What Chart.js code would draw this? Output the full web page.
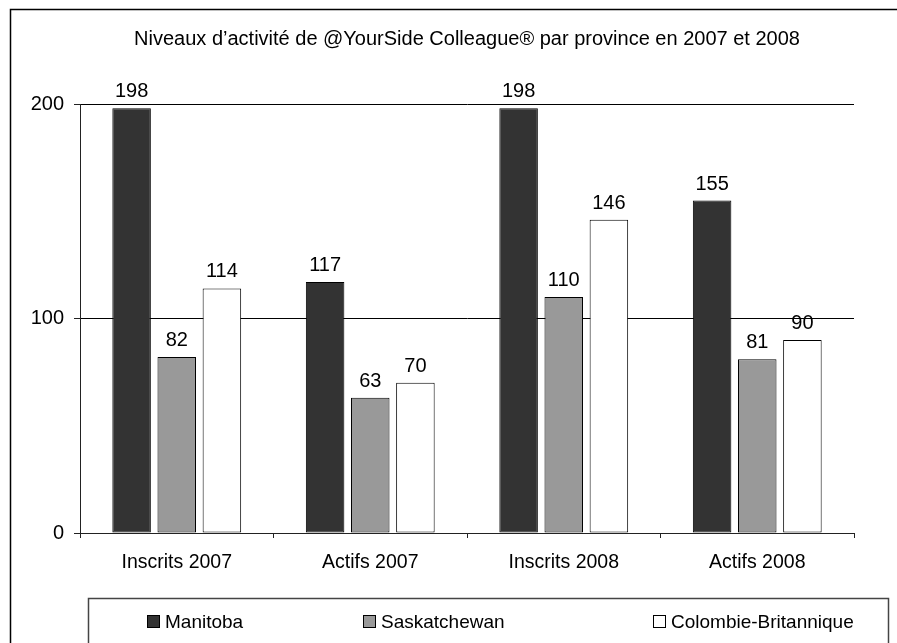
<!DOCTYPE html>
<html>
<head>
<meta charset="utf-8">
<title>@YourSide Colleague</title>
<script src="https://cdn.jsdelivr.net/npm/chart.js@4.4.1/dist/chart.umd.min.js"></script>
<style>
  html, body { margin: 0; padding: 0; background: #fff; }
  #wrap { width: 897px; height: 643px; position: relative; }
</style>
</head>
<body>
<div id="wrap"><canvas id="chart"></canvas></div>
<script>
const categories = ["Inscrits 2007", "Actifs 2007", "Inscrits 2008", "Actifs 2008"];
const provinces = ["Manitoba", "Saskatchewan", "Colombie-Britannique"];
const manitoba = [198, 117, 198, 155];
const saskatchewan = [82, 63, 110, 81];
const colombieBritannique = [114, 70, 146, 90];
const yTicks = [0, 100, 200];

const FONT = "'Liberation Sans', Arial, sans-serif";
const colors = ["#333333", "#999999", "#ffffff"];

// outer frame (only top/left visible in the picture)
const framePlugin = {
  id: "frame",
  beforeDraw(chart) {
    const ctx = chart.ctx;
    ctx.save();
    ctx.strokeStyle = "#000";
    ctx.lineWidth = 1.5;
    ctx.strokeRect(10.5, 9.5, 1000, 1000);
    ctx.restore();
  }
};

// values above each bar
const valueLabels = {
  id: "valueLabels",
  afterDatasetsDraw(chart) {
    const ctx = chart.ctx;
    ctx.save();
    ctx.font = `20px ${FONT}`;
    ctx.fillStyle = "#000";
    ctx.textAlign = "center";
    ctx.textBaseline = "alphabetic";
    chart.data.datasets.forEach((ds, i) => {
      chart.getDatasetMeta(i).data.forEach((bar, j) => {
        ctx.fillText(ds.data[j], bar.x, bar.y - 11);
      });
    });
    ctx.restore();
  }
};

// boxed legend at the bottom, Excel style
const boxLegend = {
  id: "boxLegend",
  afterDraw(chart) {
    const ctx = chart.ctx;
    const xs = [147, 363, 653];
    const y = 622;
    ctx.save();
    ctx.strokeStyle = "#444";
    ctx.lineWidth = 1.5;
    ctx.strokeRect(88.5, 598.5, 800, 100);
    ctx.font = `19px ${FONT}`;
    ctx.textBaseline = "middle";
    ctx.textAlign = "left";
    chart.data.datasets.forEach((ds, i) => {
      ctx.fillStyle = ds.backgroundColor;
      ctx.fillRect(xs[i] + 0.5, y - 6.5, 12, 12);
      ctx.strokeStyle = "#000";
      ctx.lineWidth = 1;
      ctx.strokeRect(xs[i] + 0.5, y - 6.5, 12, 12);
      ctx.fillStyle = "#000";
      ctx.fillText(ds.label, xs[i] + 18, y + 1);
    });
    ctx.restore();
  }
};

const datasets = [manitoba, saskatchewan, colombieBritannique].map((data, i) => ({
  label: provinces[i],
  data,
  backgroundColor: colors[i],
  borderColor: "#000",
  borderWidth: 1,
  borderSkipped: false,
  categoryPercentage: 0.7,
  barPercentage: 0.853
}));

new Chart(document.getElementById("chart"), {
  type: "bar",
  data: { labels: categories, datasets },
  options: {
    responsive: true,
    maintainAspectRatio: false,
    animation: false,
    events: [],
    layout: { padding: { top: 0, left: 0, right: 43, bottom: 65 } },
    plugins: {
      legend: { display: false },
      tooltip: { enabled: false },
      title: {
        display: true,
        fullSize: false,
        text: "Niveaux d\u2019activit\u00e9 de @YourSide Colleague\u00ae par province en 2007 et 2008",
        color: "#000",
        font: { family: FONT, size: 20, weight: "normal" },
        padding: { top: 27, bottom: 53 }
      }
    },
    scales: {
      x: {
        afterFit: s => { s.height = 45; },
        grid: { offset: true, drawOnChartArea: false, drawTicks: true, tickLength: 5, color: "#222" },
        border: { display: true, color: "#222", width: 1 },
        ticks: { color: "#000", padding: 13, font: { family: FONT, size: 19.5 } }
      },
      y: {
        min: 0,
        max: 200,
        afterFit: s => { s.width = 80; },
        afterBuildTicks: s => { s.ticks = yTicks.map(v => ({ value: v })); },
        grid: { color: "#000", lineWidth: 1, drawTicks: true, tickLength: 6, tickColor: "#222" },
        border: { display: true, color: "#222", width: 1 },
        ticks: { color: "#000", padding: 10, font: { family: FONT, size: 20 } }
      }
    }
  },
  plugins: [framePlugin, valueLabels, boxLegend]
});
</script>
</body>
</html>
